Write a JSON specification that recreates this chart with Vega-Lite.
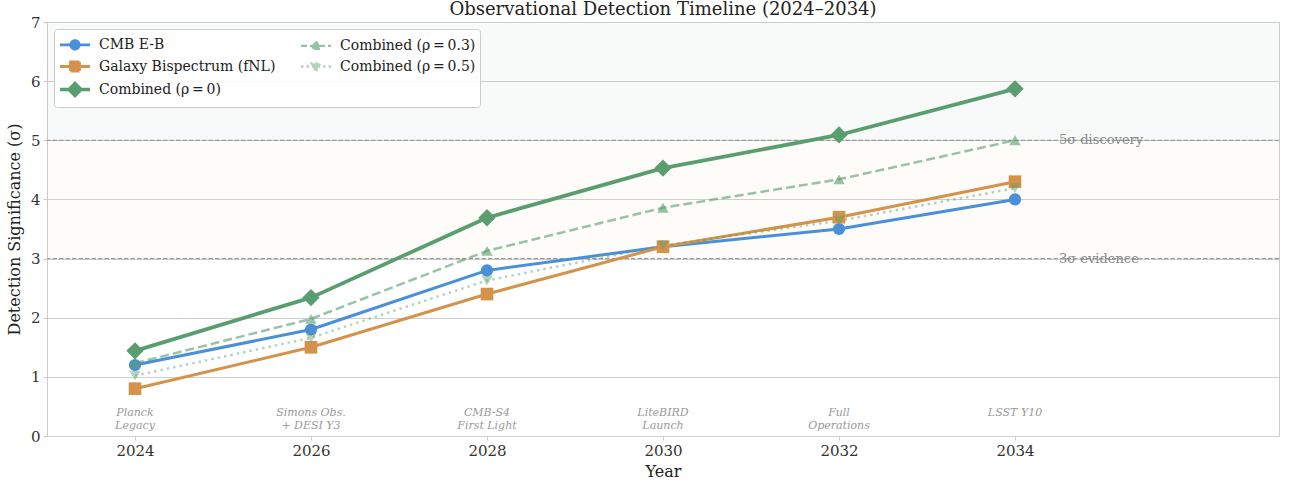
{
  "$schema": "https://vega.github.io/schema/vega-lite/v6.json",
  "width": 1232,
  "height": 414,
  "autosize": "none",
  "padding": {"left": 47, "top": 22, "right": 16, "bottom": 51},
  "background": "white",
  "title": {"text": "Observational Detection Timeline (2024–2034)", "fontSize": 18, "fontWeight": "normal", "color": "#222222", "font": "DejaVu Serif", "offset": -4, "anchor": "middle"},
  "config": {
    "font": "DejaVu Serif",
    "view": {"stroke": "#cccccc", "strokeWidth": 1},
    "axis": {"labelFont": "DejaVu Serif", "titleFont": "DejaVu Serif", "labelFontSize": 15, "titleFontSize": 16, "labelColor": "#333333", "titleColor": "#222222", "titleFontWeight": "normal", "gridColor": "#d0d0d0", "gridWidth": 1, "tickColor": "#cccccc", "tickSize": 4, "domain": false}
  },
  "datasets": {
    "series": [
      {"year": 2024, "value": 1.2, "series": "cmb"},
      {"year": 2026, "value": 1.8, "series": "cmb"},
      {"year": 2028, "value": 2.8, "series": "cmb"},
      {"year": 2030, "value": 3.2, "series": "cmb"},
      {"year": 2032, "value": 3.5, "series": "cmb"},
      {"year": 2034, "value": 4.0, "series": "cmb"},
      {"year": 2024, "value": 0.8, "series": "gal"},
      {"year": 2026, "value": 1.5, "series": "gal"},
      {"year": 2028, "value": 2.4, "series": "gal"},
      {"year": 2030, "value": 3.2, "series": "gal"},
      {"year": 2032, "value": 3.7, "series": "gal"},
      {"year": 2034, "value": 4.3, "series": "gal"},
      {"year": 2024, "value": 1.44, "series": "c0"},
      {"year": 2026, "value": 2.34, "series": "c0"},
      {"year": 2028, "value": 3.69, "series": "c0"},
      {"year": 2030, "value": 4.53, "series": "c0"},
      {"year": 2032, "value": 5.09, "series": "c0"},
      {"year": 2034, "value": 5.87, "series": "c0"},
      {"year": 2024, "value": 1.23, "series": "c3"},
      {"year": 2026, "value": 1.98, "series": "c3"},
      {"year": 2028, "value": 3.13, "series": "c3"},
      {"year": 2030, "value": 3.86, "series": "c3"},
      {"year": 2032, "value": 4.34, "series": "c3"},
      {"year": 2034, "value": 5.0, "series": "c3"},
      {"year": 2024, "value": 1.02, "series": "c5"},
      {"year": 2026, "value": 1.66, "series": "c5"},
      {"year": 2028, "value": 2.63, "series": "c5"},
      {"year": 2030, "value": 3.22, "series": "c5"},
      {"year": 2032, "value": 3.64, "series": "c5"},
      {"year": 2034, "value": 4.19, "series": "c5"}
    ],
    "events": [
      {"year": 2024, "label": "Planck\nLegacy"},
      {"year": 2026, "label": "Simons Obs.\n+ DESI Y3"},
      {"year": 2028, "label": "CMB-S4\nFirst Light"},
      {"year": 2030, "label": "LiteBIRD\nLaunch"},
      {"year": 2032, "label": "Full\nOperations"},
      {"year": 2034, "label": "LSST Y10"}
    ],
    "thresholds": [
      {"level": 3, "label": "3σ evidence"},
      {"level": 5, "label": "5σ discovery"}
    ]
  },
  "layer": [
    {
      "data": {"values": [{"lo": 3, "hi": 5}]},
      "mark": {"type": "rect", "fill": "#d4924a", "opacity": 0.03},
      "encoding": {
        "y": {"field": "lo", "type": "quantitative", "scale": {"domain": [0, 7], "nice": false, "zero": true},
              "axis": {"values": [0, 1, 2, 3, 4, 5, 6, 7], "format": "d", "title": "Detection Significance (σ)", "labelPadding": 3, "titlePadding": 8}},
        "y2": {"field": "hi"}
      }
    },
    {
      "data": {"values": [{"lo": 5, "hi": 7}]},
      "mark": {"type": "rect", "fill": "#5a9e6f", "opacity": 0.05},
      "encoding": {
        "y": {"field": "lo", "type": "quantitative"},
        "y2": {"field": "hi"}
      }
    },
    {
      "data": {"name": "thresholds"},
      "mark": {"type": "rule", "color": "#9a9a9a", "strokeWidth": 1.2, "strokeDash": [4.5, 2]},
      "encoding": {"y": {"field": "level", "type": "quantitative"}}
    },
    {
      "data": {"name": "thresholds"},
      "mark": {"type": "text", "align": "left", "baseline": "middle", "fontSize": 13, "color": "#888888", "font": "DejaVu Serif"},
      "encoding": {
        "x": {"datum": 2034.5, "type": "quantitative"},
        "y": {"field": "level", "type": "quantitative"},
        "text": {"field": "label"}
      }
    },
    {
      "data": {"name": "events"},
      "mark": {"type": "text", "align": "center", "baseline": "bottom", "fontSize": 11, "fontStyle": "italic", "color": "#999999", "font": "DejaVu Serif", "lineBreak": "\n", "lineHeight": 12.5},
      "encoding": {
        "x": {"field": "year", "type": "quantitative"},
        "y": {"datum": 0.3, "type": "quantitative"},
        "text": {"field": "label"}
      }
    },
    {
      "data": {"name": "series"},
      "transform": [{"filter": "datum.series === 'cmb'"}],
      "mark": {"type": "line", "color": "#4a90d9", "strokeWidth": 3, "strokeJoin": "round"},
      "encoding": {
        "x": {"field": "year", "type": "quantitative", "scale": {"domain": [2023, 2037], "nice": false, "zero": false},
              "axis": {"values": [2024, 2026, 2028, 2030, 2032, 2034], "format": "d", "title": "Year", "labelPadding": 3, "titlePadding": 5}},
        "y": {"field": "value", "type": "quantitative"}
      }
    },
    {
      "data": {"name": "series"},
      "transform": [{"filter": "datum.series === 'gal'"}],
      "mark": {"type": "line", "color": "#d4924a", "strokeWidth": 3, "strokeJoin": "round"},
      "encoding": {
        "x": {"field": "year", "type": "quantitative"},
        "y": {"field": "value", "type": "quantitative"}
      }
    },
    {
      "data": {"name": "series"},
      "transform": [{"filter": "datum.series === 'c0'"}],
      "mark": {"type": "line", "color": "#5a9e6f", "strokeWidth": 3.8, "strokeJoin": "round"},
      "encoding": {
        "x": {"field": "year", "type": "quantitative"},
        "y": {"field": "value", "type": "quantitative"}
      }
    },
    {
      "data": {"name": "series"},
      "transform": [{"filter": "datum.series === 'c3'"}],
      "mark": {"type": "line", "color": "#5a9e6f", "strokeWidth": 2.5, "strokeDash": [9, 4], "opacity": 0.62},
      "encoding": {
        "x": {"field": "year", "type": "quantitative"},
        "y": {"field": "value", "type": "quantitative"}
      }
    },
    {
      "data": {"name": "series"},
      "transform": [{"filter": "datum.series === 'c5'"}],
      "mark": {"type": "line", "color": "#5a9e6f", "strokeWidth": 2.5, "strokeDash": [2.5, 4], "opacity": 0.45},
      "encoding": {
        "x": {"field": "year", "type": "quantitative"},
        "y": {"field": "value", "type": "quantitative"}
      }
    },
    {
      "data": {"name": "series"},
      "mark": {"type": "point", "filled": true},
      "encoding": {
        "x": {"field": "year", "type": "quantitative"},
        "y": {"field": "value", "type": "quantitative"},
        "color": {"condition": [
          {"test": "datum.series==='cmb'", "value": "#4a90d9"},
          {"test": "datum.series==='gal'", "value": "#d4924a"}
        ], "value": "#5a9e6f"},
        "opacity": {"condition": [
          {"test": "datum.series==='c3'", "value": 0.62},
          {"test": "datum.series==='c5'", "value": 0.45}
        ], "value": 1},
        "size": {"condition": [
          {"test": "datum.series==='cmb'", "value": 150},
          {"test": "datum.series==='gal'", "value": 160},
          {"test": "datum.series==='c0'", "value": 300}
        ], "value": 130},
        "shape": {"condition": [
          {"test": "datum.series==='cmb'", "value": "circle"},
          {"test": "datum.series==='gal'", "value": "square"},
          {"test": "datum.series==='c0'", "value": "diamond"},
          {"test": "datum.series==='c3'", "value": "triangle-up"}
        ], "value": "triangle-down"}
      }
    },
    {
      "data": {"name": "series"},
      "transform": [{"filter": "false"}],
      "mark": {"type": "point", "filled": true},
      "encoding": {
        "x": {"field": "year", "type": "quantitative"},
        "y": {"field": "value", "type": "quantitative"},
        "color": {"field": "series", "type": "nominal", "scale": {"type": "ordinal", "domain": ["cmb", "gal", "c0", "c3", "c5"], "range": ["#4a90d9", "#d4924a", "#5a9e6f", "#5a9e6f", "#5a9e6f"]}},
        "stroke": {"field": "series", "type": "nominal", "scale": {"type": "ordinal", "domain": ["cmb", "gal", "c0", "c3", "c5"], "range": ["#4a90d9", "#d4924a", "#5a9e6f", "#5a9e6f", "#5a9e6f"]}},
        "strokeDash": {"field": "series", "type": "nominal", "scale": {"type": "ordinal", "domain": ["cmb", "gal", "c0", "c3", "c5"], "range": [[1, 0], [1, 0], [1, 0], [6, 3], [2.5, 3]]}},
        "strokeWidth": {"field": "series", "type": "nominal", "scale": {"type": "ordinal", "domain": ["cmb", "gal", "c0", "c3", "c5"], "range": [2.8, 2.8, 3.4, 2.4, 2.4]}},
        "opacity": {"field": "series", "type": "nominal", "scale": {"type": "ordinal", "domain": ["cmb", "gal", "c0", "c3", "c5"], "range": [1, 1, 1, 0.62, 0.45]}},
        "shape": {"field": "series", "type": "nominal",
          "scale": {"type": "ordinal", "domain": ["cmb", "gal", "c0", "c3", "c5"], "range": [
            "M-1.5,0L1.5,0M0.42,0A0.42,0.42,0,1,1,-0.42,0A0.42,0.42,0,1,1,0.42,0Z",
            "M-1.5,0L1.5,0M-0.45,-0.45L0.45,-0.45L0.45,0.45L-0.45,0.45Z",
            "M-1.5,0L1.5,0M0,-0.6L0.6,0L0,0.6L-0.6,0Z",
            "M-1.5,0L1.5,0M0,-0.45L0.42,0.3L-0.42,0.3Z",
            "M-1.5,0L1.5,0M0,0.45L0.42,-0.3L-0.42,-0.3Z"
          ]},
          "legend": {
            "title": null, "orient": "top-left", "offset": 7, "columns": 2, "symbolSize": 400, "symbolOffset": 5,
            "labelFont": "DejaVu Serif", "labelFontSize": 14, "labelColor": "#222222", "labelOffset": 12, "labelLimit": 400,
            "fillColor": "rgba(255,255,255,0.85)", "strokeColor": "#cccccc", "cornerRadius": 3, "padding": 4, "rowPadding": -0.5, "columnPadding": 20,
            "labelExpr": "datum.value==='cmb'?'CMB E-B':datum.value==='gal'?'Galaxy Bispectrum (fNL)':datum.value==='c0'?'Combined (ρ\u2009=\u20090)':datum.value==='c3'?'Combined (ρ\u2009=\u20090.3)':'Combined (ρ\u2009=\u20090.5)'"
          }
        }
      }
    }
  ]
}
